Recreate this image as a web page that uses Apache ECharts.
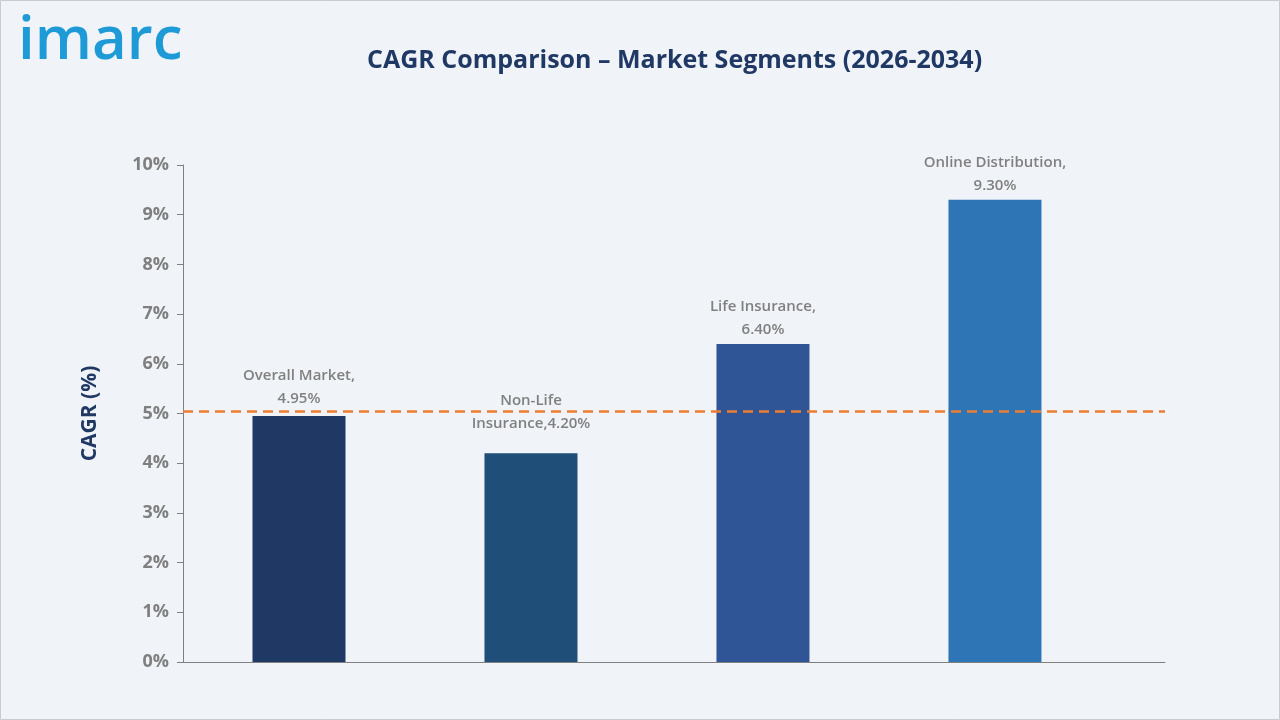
<!DOCTYPE html>
<html><head><meta charset="utf-8">
<script src="https://cdn.jsdelivr.net/npm/echarts@6/dist/echarts.min.js"></script>
<style>html,body{margin:0;padding:0;background:#f0f3f8}#c{width:1280px;height:720px}</style>
</head><body><div id="c"></div>
<script>
const categories = ['Overall Market', 'Non-Life Insurance', 'Life Insurance', 'Online Distribution'];
const positions = [0.5, 1.5, 2.5, 3.5];
const labelTexts = ['Overall Market,\n4.95%', 'Non-Life\nInsurance,4.20%', 'Life Insurance,\n6.40%', 'Online Distribution,\n9.30%'];
const values = [4.95, 4.20, 6.40, 9.30];
const barColors = ['#1f3864', '#1f4e79', '#2f5597', '#2e75b6'];
const labelGaps = [6, 18, 3, 3];
const refLine = 5.05;

const chart = echarts.init(document.getElementById('c'));
chart.setOption({
  backgroundColor: '#f0f3f8',
  graphic: [
    {type:'rect', shape:{x:0.5,y:0.5,width:1279,height:719}, style:{fill:'none', stroke:'#c8ccd2', lineWidth:1}},
    {type:'text', left:18, top:12, style:{text:'imarc', font:'600 60px "Open Sans", sans-serif', fill:'#1e9ad6'}}
  ],
  title: {text:'CAGR Comparison – Market Segments (2026-2034)', left:362, top:43,
    textStyle:{fontFamily:'"Open Sans", sans-serif', fontSize:25, fontWeight:'bold', color:'#1f3864'}},
  grid: {left:183, right:115, top:165, bottom:58},
  xAxis: {type:'value', min:0, max:4.233, axisLine:{show:true, onZero:false, lineStyle:{color:'#808080'}}, axisTick:{show:false}, axisLabel:{show:false}, splitLine:{show:false}},
  yAxis: {type:'value', min:0, max:10, interval:1, name:'CAGR (%)', nameLocation:'middle', nameGap:82,
    nameTextStyle:{fontSize:21, fontWeight:'bold', color:'#1f3864', fontFamily:'"Open Sans", sans-serif'},
    axisLine:{show:true, lineStyle:{color:'#808080'}}, axisTick:{show:true, length:6, lineStyle:{color:'#808080'}},
    splitLine:{show:false},
    axisLabel:{formatter:'{value}%', fontSize:18, fontWeight:'bold', color:'#7f7f7f', margin:14, fontFamily:'"Open Sans", sans-serif'}},
  series: [{
    type:'bar', barWidth:93,
    data: values.map((v,i)=>({value:[positions[i], v], name:categories[i], itemStyle:{color:barColors[i]},
      label:{show:true, position:'top', distance:labelGaps[i], formatter:labelTexts[i], lineHeight:23, fontSize:15, fontWeight:600, color:'#808080', fontFamily:'"Open Sans", sans-serif'}})),
    markLine: {silent:true, symbol:'none', label:{show:false},
      lineStyle:{color:'#ed7d31', type:[10,6], width:2.5},
      data:[{yAxis:refLine}]}
  }]
});
</script></body></html>
